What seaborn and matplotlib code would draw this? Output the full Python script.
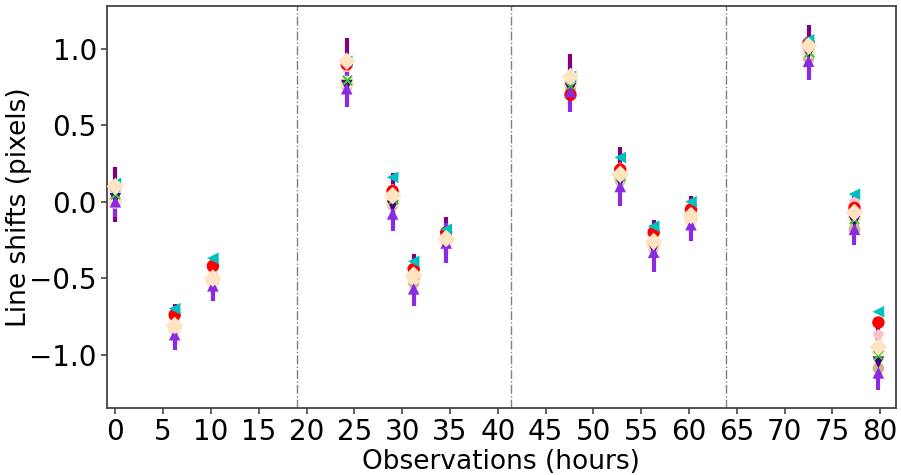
import numpy as np
import pandas as pd
import seaborn as sns
import matplotlib.pyplot as plt

# observation times (hours)
hours = [0.0, 6.2, 10.2, 24.2, 29.0, 31.2, 34.6, 47.6, 52.8, 56.3, 60.2, 72.5, 77.3, 79.8]

# line shifts (pixels) per line
cyan_shift = [0.12, -0.70, -0.37, 0.92, 0.16, -0.39, -0.18, 0.82, 0.29, -0.16, 0.00, 1.06, 0.05, -0.72]
red_shift = [0.10, -0.74, -0.42, 0.90, 0.07, -0.44, -0.20, 0.70, 0.21, -0.20, -0.05, 1.04, -0.04, -0.79]
pink_shift = [0.11, -0.76, -0.44, 0.88, 0.08, -0.45, -0.21, 0.80, 0.22, -0.21, -0.06, 1.03, 0.00, -0.87]
green_shift = [0.05, -0.77, -0.45, 0.80, 0.02, -0.47, -0.23, 0.76, 0.17, -0.23, -0.08, 0.98, -0.11, -1.00]
indigo_shift = [0.02, -0.79, -0.47, 0.76, -0.03, -0.50, -0.24, 0.74, 0.13, -0.31, -0.10, 0.97, -0.13, -1.05]
bisque_shift = [0.10, -0.81, -0.50, 0.92, 0.04, -0.48, -0.24, 0.82, 0.18, -0.26, -0.09, 1.02, -0.07, -0.95]
peach_shift = [0.00, -0.83, -0.52, 0.78, 0.00, -0.50, -0.26, 0.78, 0.16, -0.28, -0.11, 0.98, -0.10, -0.97]
tan_shift = [0.01, -0.84, -0.53, 0.76, -0.02, -0.53, -0.26, 0.75, 0.14, -0.30, -0.12, 0.94, -0.18, -1.09]

# lines with error bars
magenta_shift = [0.05, -0.80, -0.48, 0.92, 0.05, -0.46, -0.22, 0.82, 0.22, -0.24, -0.07, 1.03, -0.08, -0.95]
magenta_err = [0.18, 0.13, 0.12, 0.15, 0.14, 0.12, 0.12, 0.15, 0.14, 0.12, 0.11, 0.13, 0.12, 0.14]
violet_shift = [0.00, -0.87, -0.55, 0.74, -0.08, -0.57, -0.27, 0.72, 0.10, -0.33, -0.15, 0.92, -0.18, -1.12]
violet_err = [0.10, 0.10, 0.10, 0.12, 0.11, 0.11, 0.13, 0.13, 0.13, 0.13, 0.11, 0.12, 0.10, 0.11]

night_breaks = [19.0, 41.4, 63.9]

sns.set_style("white")
plt.rcParams['font.family'] = ['DejaVu Sans']
plt.rcParams['text.color'] = 'black'
plt.rcParams['axes.labelcolor'] = 'black'
plt.rcParams['xtick.color'] = 'black'
plt.rcParams['ytick.color'] = 'black'

fig = plt.figure(figsize=(9.01, 4.75), dpi=100)
ax = fig.add_axes([0.119, 0.141, 0.875, 0.846])

ax.errorbar(hours, magenta_shift, yerr=magenta_err, fmt='none', ecolor='purple', elinewidth=3, zorder=1)
ax.errorbar(hours, violet_shift, yerr=violet_err, fmt='none', ecolor='blueviolet', elinewidth=3, zorder=2)

marker_series = [
    (tan_shift, 'tan', 'o', 70),
    (peach_shift, 'bisque', 'o', 100),
    (indigo_shift, 'indigo', 'v', 70),
    (green_shift, 'limegreen', 'x', 45),
    (pink_shift, 'pink', 'p', 70),
    (red_shift, 'red', 'o', 80),
    (cyan_shift, 'c', '<', 70),
    (violet_shift, 'blueviolet', '^', 70),
    (bisque_shift, 'bisque', 'D', 80),
]
for vals, col, mk, sz in marker_series:
    df = pd.DataFrame({'hours': hours, 'shift': vals})
    sns.scatterplot(data=df, x='hours', y='shift', color=col, marker=mk, s=sz,
                    edgecolor='none' if mk != 'x' else col, linewidth=1.5 if mk == 'x' else 0,
                    ax=ax, zorder=3)

for b in night_breaks:
    ax.axvline(b, color='gray', linestyle='-.', linewidth=1)

ax.set_xlim(-0.85, 81.6)
ax.set_ylim(-1.35, 1.28)
ax.set_xticks(np.arange(0, 81, 5))
ax.set_yticks([-1.0, -0.5, 0.0, 0.5, 1.0])
ax.tick_params(labelsize=20, length=4, width=1.2, direction='out', bottom=True, left=True,
               color='#444444', labelcolor='black')
ax.set_xlabel('Observations (hours)', fontsize=19, labelpad=2)
ax.set_ylabel('Line shifts (pixels)', fontsize=19, labelpad=-2)
for sp in ax.spines.values():
    sp.set_color('#444444')
    sp.set_linewidth(1.3)

fig.savefig('out.png', dpi=100)
